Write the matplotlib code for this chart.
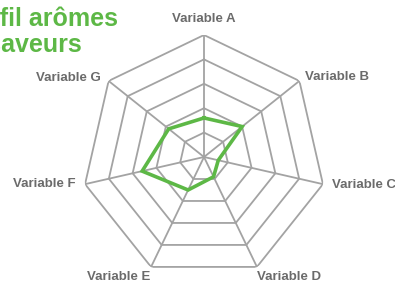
import matplotlib.pyplot as plt
import numpy as np

plt.rcParams['font.family'] = ['Liberation Sans', 'DejaVu Sans']

# Data
variables = ['Variable A', 'Variable B', 'Variable C', 'Variable D',
             'Variable E', 'Variable F', 'Variable G']
values = [1.6, 2.0, 0.6, 0.9, 1.5, 2.6, 1.85]
rings = [1, 2, 3, 4, 5]
title_lines = ['Profil arômes', 'et saveurs']

green = '#5db846'
grid_col = '#a3a3a3'
label_col = '#6b6b6b'

W, H = 395, 284
fig = plt.figure(figsize=(W / 100, H / 100), dpi=100)

# axes centred at (204, 157) px from top-left, radius 122 px
cx, cy, R = 204, 157, 122
ax = fig.add_axes([(cx - R) / W, (H - cy - R) / H, 2 * R / W, 2 * R / H],
                  projection='polar')
ax.set_theta_zero_location('N')
ax.set_theta_direction(-1)
ax.set_ylim(0, 5)
ax.grid(False)
ax.spines['polar'].set_visible(False)
ax.set_xticks([])
ax.set_yticks([])
ax.patch.set_alpha(0)

n = len(variables)
angles = np.linspace(0, 2 * np.pi, n, endpoint=False)
closed = np.append(angles, angles[0])

# grid: rings and spokes
for r in rings:
    ax.plot(closed, [r] * (n + 1), color=grid_col, lw=1.3, zorder=1)
for a in angles:
    ax.plot([a, a], [0, rings[-1]], color=grid_col, lw=1.3, zorder=1)

# data
ax.plot(closed, values + values[:1], color=green, lw=2.6, zorder=3,
        solid_joinstyle='miter')

# labels: (dx, dy) pixel offsets from vertex, alignment
placement = [
    ((0, 16), 'center', 'center'),
    ((6, 4), 'left', 'center'),
    ((9, -1), 'left', 'center'),
    ((0, -10), 'left', 'center'),
    ((-1, -10), 'right', 'center'),
    ((-9, 0), 'right', 'center'),
    ((-8, 3), 'right', 'center'),
]
for a, lab, (off, ha, va) in zip(angles, variables, placement):
    ax.annotate(lab, xy=(a, rings[-1]), xytext=off, textcoords='offset pixels',
                ha=ha, va=va, fontsize=9.5, fontweight='bold', color=label_col,
                annotation_clip=False)

# title (partly cut off on the left, as in the original)
fig.text(-42 / W, 1 - 26 / H, title_lines[0], ha='left', va='baseline',
         fontsize=18, fontweight='bold', color=green)
fig.text(-42 / W, 1 - 52.5 / H, title_lines[1], ha='left', va='baseline',
         fontsize=18, fontweight='bold', color=green)

fig.savefig('out.png', dpi=100)
